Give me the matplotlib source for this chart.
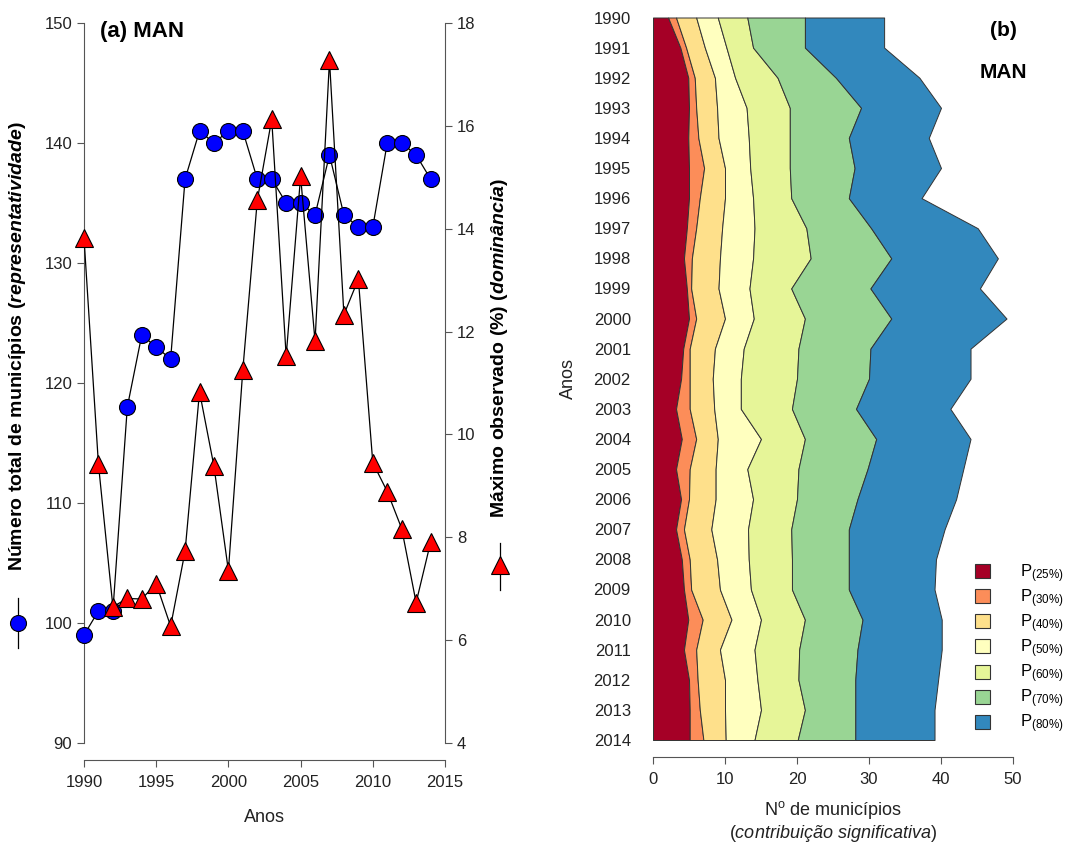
import matplotlib
matplotlib.use('Agg')
import matplotlib.pyplot as plt
from matplotlib.patches import Patch
from matplotlib.lines import Line2D

plt.rcParams['font.family'] = ['Liberation Sans', 'DejaVu Sans']
plt.rcParams['mathtext.fontset'] = 'custom'
plt.rcParams['mathtext.rm'] = 'Liberation Sans'
plt.rcParams['mathtext.it'] = 'Liberation Sans:italic'
plt.rcParams['mathtext.bf'] = 'Liberation Sans:bold'
plt.rcParams['mathtext.bfit'] = 'Liberation Sans:italic:bold'

# (a) total de municipios e maximo observado
years = list(range(1990, 2015))
n_municipios = [99, 101, 101, 118, 124, 123, 122, 137, 141, 140, 141, 141, 137,
                137, 135, 135, 134, 139, 134, 133, 133, 140, 140, 139, 137]
max_observado = [13.82, 9.42, 6.65, 6.81, 6.8, 7.1, 6.27, 7.73, 10.83, 9.38, 7.35,
                 11.26, 14.55, 16.13, 11.52, 15.02, 11.81, 17.28, 12.33, 13.02,
                 9.45, 8.89, 8.17, 6.73, 7.9]

# (b) limites acumulados das classes (n. de municipios)
cum_p25 = [2.1, 3.8, 4.9, 5.0, 4.9, 5.0, 5.0, 4.7, 4.3, 4.7, 5.0, 4.2, 3.9,
           3.2, 4.0, 3.2, 3.9, 3.2, 4.0, 4.3, 4.9, 4.3, 5.0, 5.1, 5.1]
cum_p30 = [3.2, 4.6, 5.8, 6.0, 6.3, 7.1, 6.5, 6.0, 5.4, 5.3, 6.0, 5.1, 5.1,
           5.1, 6.0, 5.1, 5.0, 4.3, 5.1, 5.3, 6.9, 6.0, 6.2, 6.5, 7.0]
cum_p40 = [6.0, 7.2, 8.6, 8.9, 9.1, 10.0, 10.0, 9.6, 9.3, 9.1, 10.0, 8.6, 8.3,
           8.5, 9.0, 8.7, 8.7, 8.1, 8.9, 9.3, 10.9, 9.3, 10.0, 10.0, 10.1]
cum_p50 = [9.0, 10.2, 11.4, 13.0, 13.3, 13.5, 13.9, 14.1, 13.9, 13.4, 14.0, 12.6, 12.2,
           12.2, 15.0, 13.1, 13.9, 13.2, 13.3, 13.6, 15.0, 14.1, 14.5, 15.0, 14.1]
cum_p60 = [13.1, 13.9, 17.3, 19.0, 19.0, 19.0, 19.2, 21.3, 21.9, 19.2, 21.1, 20.2, 20.0,
           19.3, 21.1, 20.2, 20.0, 19.2, 19.3, 19.3, 21.1, 20.3, 20.2, 21.1, 20.1]
cum_p70 = [21.1, 21.1, 25.4, 28.9, 27.2, 28.0, 27.2, 30.3, 33.1, 30.2, 33.1, 30.2, 30.0,
           28.2, 31.0, 29.8, 28.4, 27.2, 27.2, 27.2, 29.1, 28.4, 28.1, 28.1, 28.1]
cum_p80 = [32.1, 32.1, 37.0, 40.0, 38.3, 40.0, 37.3, 45.1, 47.9, 45.4, 49.1, 44.1, 44.1,
           41.3, 44.1, 43.1, 42.1, 40.5, 39.3, 39.1, 40.1, 40.1, 39.6, 39.1, 39.1]
classes = ['P$_{(25\\%)}$', 'P$_{(30\\%)}$', 'P$_{(40\\%)}$', 'P$_{(50\\%)}$',
           'P$_{(60\\%)}$', 'P$_{(70\\%)}$', 'P$_{(80\\%)}$']
colors = ['#a50026', '#fc8d59', '#fee08b', '#ffffbf', '#e6f598', '#99d594', '#3288bd']

W, H = 1073, 844
fig = plt.figure(figsize=(W / 100, H / 100), dpi=100)
tick_col = '#222222'

# ---- painel (a)
ax = fig.add_axes([84 / W, 1 - 743 / H, 361 / W, 720 / H])
ax2 = ax.twinx()
ax.plot(years, n_municipios, '-o', color='black', lw=0.9, mfc='#0000ff', mec='black',
        mew=0.8, ms=11.5, clip_on=False, zorder=3)
ax2.plot(years, max_observado, '-^', color='black', lw=0.9, mfc='#ff0000', mec='black',
         mew=0.8, ms=13, clip_on=False, zorder=4)
ax.set_xlim(1990, 2015)
ax.set_ylim(90, 150)
ax2.set_ylim(4, 18)
ax.set_xticks(range(1990, 2016, 5))
ax.set_yticks(range(90, 151, 10))
ax2.set_yticks(range(4, 19, 2))
for s in ['top', 'right']:
    ax.spines[s].set_visible(False)
for s in ['top', 'left', 'bottom']:
    ax2.spines[s].set_visible(False)
ax.spines['bottom'].set_position(('outward', 12))
for a in (ax, ax2):
    for s in a.spines.values():
        s.set_color('#555555')
    a.tick_params(labelsize=12, colors='#555555', labelcolor=tick_col, length=5)
ax.tick_params(axis='x', pad=6)
ax.set_xlabel('Anos', fontsize=13, color=tick_col, labelpad=14)

fig.text(100 / W, 1 - 32 / H, '(a) MAN', fontsize=16, fontweight='bold', va='center')

fig.text(18 / W, 1 - 346 / H,
         r'$\mathbf{Número\ total\ de\ municípios\ (}\mathbfit{representatividade}\mathbf{)}$',
         rotation=90, ha='center', va='center', fontsize=14)
fig.add_artist(Line2D([18 / W, 18 / W], [1 - 598 / H, 1 - 648 / H], color='black', lw=0.9))
fig.add_artist(Line2D([18 / W], [1 - 623 / H], marker='o', ms=11.5, mfc='#0000ff',
                      mec='black', mew=0.8, ls='none'))

fig.text(500 / W, 1 - 348 / H,
         r'$\mathbf{Máximo\ observado\ (\%)\ (}\mathbfit{dominância}\mathbf{)}$',
         rotation=90, ha='center', va='center', fontsize=14)
fig.add_artist(Line2D([500 / W, 500 / W], [1 - 543 / H, 1 - 590 / H], color='black', lw=0.9))
fig.add_artist(Line2D([500 / W], [1 - 565 / H], marker='^', ms=13, mfc='#ff0000',
                      mec='black', mew=0.8, ls='none'))

# ---- painel (b)
bx = fig.add_axes([653 / W, 1 - 740 / H, 360 / W, 722.5 / H])
layers = [cum_p25, cum_p30, cum_p40, cum_p50, cum_p60, cum_p70, cum_p80]
prev = [0] * len(years)
for cum, c in zip(layers, colors):
    bx.fill_betweenx(years, prev, cum, facecolor=c, edgecolor='#333333', lw=0.7)
    prev = cum
bx.set_xlim(0, 50)
bx.set_ylim(2014, 1990)
bx.set_yticks(years)
bx.set_xticks(range(0, 51, 10))
for s in ['top', 'right', 'left']:
    bx.spines[s].set_visible(False)
bx.spines['bottom'].set_position(('outward', 12))
bx.spines['bottom'].set_color('#555555')
bx.tick_params(axis='y', length=0, pad=16, labelsize=12, labelcolor=tick_col)
bx.tick_params(axis='x', length=5, pad=6, labelsize=12, colors='#555555', labelcolor=tick_col)
bx.set_ylabel('Anos', fontsize=13, color=tick_col)
bx.yaxis.set_label_coords(-0.21, 0.5)

fig.text(833 / W, 1 - 810 / H, r'N$^{\mathrm{o}}$ de municípios', fontsize=13,
         ha='center', va='center', color=tick_col)
fig.text(833 / W, 1 - 834 / H, r'($\mathit{contribuição\ significativa}$)', fontsize=13,
         ha='center', va='center', color=tick_col)

fig.text(1003 / W, 1 - 30 / H, '(b)', fontsize=15, fontweight='bold', ha='center', va='center')
fig.text(1003 / W, 1 - 73 / H, 'MAN', fontsize=15, fontweight='bold', ha='center', va='center')

handles = [Patch(facecolor=c, edgecolor='#333333', lw=0.8) for c in colors]
bx.legend(handles, classes, loc='upper left', bbox_to_anchor=(975 / W, 1 - 562 / H),
          bbox_transform=fig.transFigure, frameon=False, fontsize=12,
          handlelength=0.92, handleheight=0.92, handletextpad=1.8, labelspacing=0.15,
          borderpad=0, borderaxespad=0)

fig.savefig('out.png', dpi=100)
